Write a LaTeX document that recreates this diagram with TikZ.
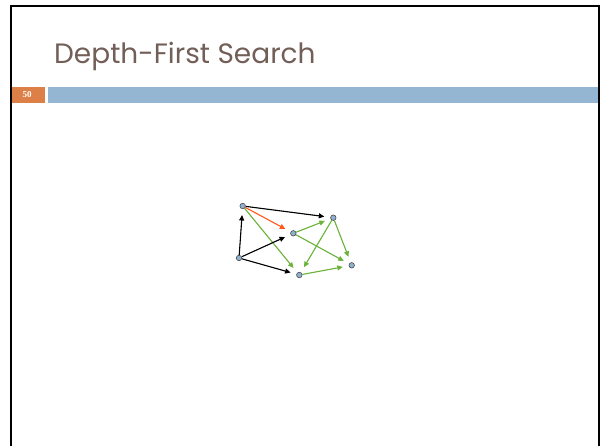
\documentclass[tikz,border=0pt]{standalone}
\usepackage{fontspec}
\newfontfamily\titlefont{Poppins}
\newfontfamily\numfont{Liberation Serif}
\usetikzlibrary{arrows.meta,backgrounds}
\definecolor{titlecol}{HTML}{725F57}
\definecolor{barorange}{HTML}{DD8047}
\definecolor{barblue}{HTML}{94B6D2}
\definecolor{nodefill}{HTML}{8FB1D0}
\definecolor{edgegreen}{HTML}{6CB33B}
\definecolor{edgered}{HTML}{FF5A1F}
\tikzset{
  vtx/.style={circle,draw=black!70,fill=nodefill,line width=0.6pt,inner sep=0pt,minimum size=5.5pt},
  edge/.style={line width=1.1pt,-{Triangle[length=5.5pt,width=5pt]},shorten >=6pt},
  blk/.style={edge,draw=black,fill=black},
  grn/.style={edge,draw=edgegreen,fill=edgegreen},
  red/.style={edge,draw=edgered,fill=edgered}
}
\begin{document}
\begin{tikzpicture}[x=1pt,y=-1pt]
\useasboundingbox (0,0) rectangle (602,446);
\draw[line width=2.2pt] (11,460) -- (11,6) -- (599,6) -- (599,460);
\node[anchor=base west,inner sep=0pt,text=titlecol,font=\titlefont\fontsize{28}{32}\selectfont] (title) at (54,64) {Depth-First Search};
\fill[barorange] (12,87) rectangle (45,103);
\fill[barblue] (48,87) rectangle (598,103);
\node[text=white,font=\numfont\bfseries\fontsize{9}{10}\selectfont,inner sep=0pt] (num) at (27,95) {50};
\node[vtx] (A) at (242.7,206) {};
\node[vtx] (B) at (333.3,217.7) {};
\node[vtx] (C) at (293.3,233.3) {};
\node[vtx] (D) at (239,258) {};
\node[vtx] (E) at (299.3,275) {};
\node[vtx] (F) at (351.7,265.3) {};
\begin{scope}[on background layer]
\fill[white] (0,0) rectangle (602,446);
\draw[blk] (A) -- (B);
\draw[red] (A) -- (C);
\draw[grn] (A) -- (E);
\draw[blk] (D) -- (A);
\draw[blk] (D) -- (C);
\draw[blk] (D) -- (E);
\draw[grn] (C) -- (B);
\draw[grn] (C) -- (F);
\draw[grn] (B) -- (E);
\draw[grn] (B) -- (F);
\draw[grn] (E) -- (F);
\end{scope}
\end{tikzpicture}
\end{document}
